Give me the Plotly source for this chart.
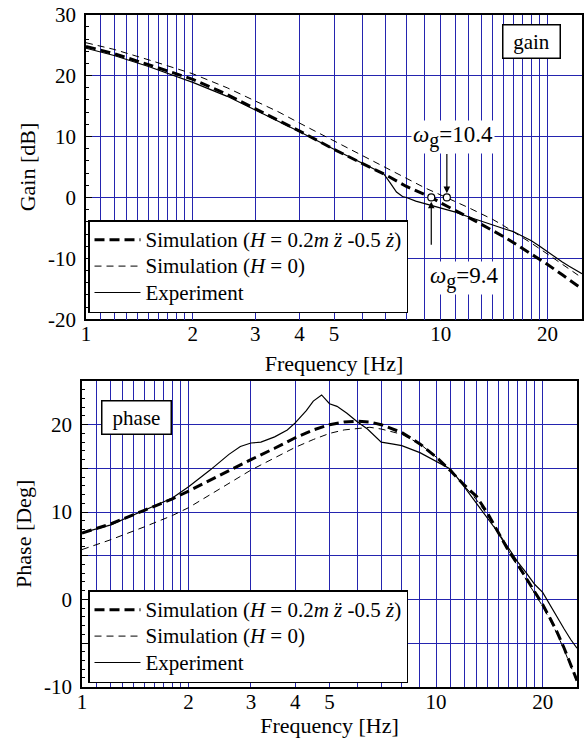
import math
import plotly.graph_objects as go

# ---------------- data ----------------
# Gain plot
f_sim1 = [1, 1.2, 1.5, 2, 2.5, 3, 3.5, 4, 5, 6, 7, 8, 9, 9.4, 10, 11, 12, 13, 14, 15, 16, 18, 20, 22, 25]
gain_sim1 = [24.8, 23.6, 21.8, 19.4, 16.9, 14.5, 12.6, 10.9, 7.9, 5.6, 3.7, 1.8, 0.4, 0.0, -0.9, -2.1,
             -3.3, -4.4, -5.4, -6.4, -7.4, -9.3, -11.0, -12.7, -15.0]

f_sim0 = [1, 1.2, 1.5, 2, 2.5, 3, 3.5, 4, 5, 6, 7, 8, 9, 10, 10.4, 11, 12, 13, 14, 15, 16, 18, 20, 22, 25]
gain_sim0 = [25.4, 24.3, 22.6, 20.3, 18.0, 15.9, 14.0, 12.2, 9.3, 7.0, 5.0, 3.2, 1.6, 0.4, 0.0, -0.7,
             -1.7, -2.7, -3.6, -4.6, -5.6, -7.5, -9.3, -11.0, -13.2]

f_exp_gain = [1, 1.2, 1.5, 2, 2.5, 3, 3.5, 4, 5, 6, 6.9, 7.2, 7.5, 7.8, 8.0, 8.5, 9.4, 10, 11, 12, 13,
              14, 15, 16, 17, 18, 19, 20, 21, 22, 23, 25]
gain_exp = [24.5, 23.3, 21.5, 18.9, 16.6, 14.4, 12.5, 10.8, 7.9, 5.6, 3.9, 2.4, 0.9, 0.15, 0.0, -0.6,
            -1.3, -1.7, -2.4, -3.2, -3.9, -4.6, -5.1, -5.6, -6.4, -7.1, -8.0, -8.9, -9.9, -10.6,
            -11.3, -12.5]

# Phase plot
f_phase_sim = [1, 1.2, 1.5, 1.8, 2, 2.5, 3, 3.5, 4, 4.5, 5, 5.5, 6, 6.5, 7, 8, 9, 10, 11, 12, 13, 14,
               15, 16, 17, 18, 19, 20, 21, 22, 23, 24, 25]
phase_sim1 = [7.6, 8.6, 10.2, 11.5, 12.4, 14.4, 16.0, 17.3, 18.5, 19.4, 20.0, 20.3, 20.4, 20.3, 20.0,
              19.1, 17.8, 16.3, 14.7, 13.1, 11.8, 9.8, 7.6, 5.6, 4.0, 2.4, 0.9, -0.6, -2.2, -3.8,
              -5.6, -7.5, -9.3]
phase_sim0 = [5.7, 6.8, 8.3, 9.6, 10.5, 12.9, 14.8, 16.2, 17.4, 18.3, 19.0, 19.4, 19.6, 19.7, 19.5,
              18.9, 17.8, 16.3, 14.8, 13.0, 11.4, 9.6, 7.5, 5.5, 3.8, 2.2, 0.7, -0.8, -2.4, -4.0,
              -5.8, -7.6, -9.4]

f_exp_phase = [1, 1.2, 1.5, 1.8, 2.0, 2.3, 2.6, 2.8, 3.0, 3.2, 3.5, 3.8, 4.0, 4.3, 4.5, 4.75, 5.0,
               5.25, 5.6, 6.0, 6.4, 7.0, 7.5, 8.0, 9.0, 10, 11, 12, 13, 14, 15, 16, 17, 18, 19, 20,
               21, 22, 23, 24, 25]
phase_exp = [7.6, 8.5, 10.2, 11.6, 12.9, 14.8, 16.6, 17.5, 17.9, 18.0, 18.6, 19.4, 20.2, 21.6, 22.7,
             23.4, 22.4, 22.1, 21.3, 20.3, 19.5, 18.0, 17.8, 17.6, 16.8, 15.8, 14.9, 12.9, 11.0, 9.3,
             7.6, 5.9, 4.3, 3.0, 1.7, 0.8, -0.7, -2.1, -3.4, -4.6, -5.6]

# crossover frequencies
wg_sim1 = 9.4
wg_sim0 = 10.4

# axis ticks / grid
x_grid = [1, 1.1, 1.2, 1.3, 1.4, 1.5, 1.6, 1.7, 1.8, 1.9, 2, 3, 4, 5, 6, 7, 8, 9, 10,
          11, 12, 13, 14, 15, 16, 17, 18, 19, 20]
x_labels = {1: "1", 2: "2", 3: "3", 4: "4", 5: "5", 10: "10", 20: "20"}
gain_ticks = [-20, -10, 0, 10, 20, 30]
phase_ticks = [-10, -5, 0, 5, 10, 15, 20]
phase_labels = {-10: "-10", 0: "0", 10: "10", 20: "20"}

names = ["Simulation (<i>H</i> = 0.2<i>m z\u0308</i> -0.5 <i>z\u0307</i>)",
         "Simulation (<i>H</i> = 0)",
         "Experiment"]

# ---------------- figure ----------------
FONT = "Liberation Serif"
GRID = "rgb(36,36,175)"
W, H = 586, 738
TICK_SIZE = 21
TITLE_SIZE = 22
LEG_TEXT = 21

fig = go.Figure()

styles = [dict(color="black", width=3, dash="10px,5px"),
          dict(color="black", width=1, dash="7px,5px"),
          dict(color="black", width=1.2)]


def leg_name(s):
    return f'<span style="font-size:{LEG_TEXT}px">{s}</span>'


for (fx, fy), st, nm in zip([(f_sim1, gain_sim1), (f_sim0, gain_sim0), (f_exp_gain, gain_exp)], styles, names):
    fig.add_trace(go.Scatter(x=fx, y=fy, mode="lines", line=st, name=leg_name(nm),
                             xaxis="x", yaxis="y", legend="legend"))

fig.add_trace(go.Scatter(x=[wg_sim1, wg_sim0], y=[0, 0], mode="markers",
                         marker=dict(symbol="circle", size=7, color="white",
                                     line=dict(color="black", width=1.2)),
                         showlegend=False, xaxis="x", yaxis="y"))

for (fx, fy), st, nm in zip([(f_phase_sim, phase_sim1), (f_phase_sim, phase_sim0), (f_exp_phase, phase_exp)], styles, names):
    fig.add_trace(go.Scatter(x=fx, y=fy, mode="lines", line=st, name=leg_name(nm),
                             xaxis="x2", yaxis="y2", legend="legend2"))


def xaxis(domain, anchor, standoff):
    return dict(type="log", range=[0, math.log10(25)], domain=domain, anchor=anchor,
                automargin=False,
                tickmode="array", tickvals=x_grid,
                ticktext=[x_labels.get(v, "") for v in x_grid],
                showgrid=True, gridcolor=GRID, gridwidth=1.4,
                ticks="inside", ticklen=5, tickcolor=GRID,
                ticklabelstandoff=-5,
                showline=True, mirror=True, linecolor="black", linewidth=1.5,
                zeroline=False, tickfont=dict(family=FONT, size=TICK_SIZE, color="black"),
                title=dict(text="Frequency [Hz]", font=dict(family=FONT, size=TITLE_SIZE, color="black"),
                           standoff=standoff))


def yaxis(domain, anchor, rng, tv, tt, minor_dt, title):
    return dict(range=rng, domain=domain, anchor=anchor,
                automargin=False,
                tickmode="array", tickvals=tv, ticktext=tt,
                showgrid=True, gridcolor=GRID, gridwidth=1.4,
                ticks="inside", ticklen=6, tickcolor="black",
                ticklabelstandoff=4,
                minor=dict(tickmode="linear", tick0=0, dtick=minor_dt, ticks="inside",
                           ticklen=3, tickcolor="black", showgrid=False),
                showline=True, mirror=True, linecolor="black", linewidth=1.5,
                zeroline=False, tickfont=dict(family=FONT, size=TICK_SIZE, color="black"),
                title=dict(text=title, font=dict(family=FONT, size=TITLE_SIZE, color="black"), standoff=6))


top_y = [1 - 319.3 / H, 1 - 14.7 / H]
bot_y = [1 - 686.7 / H, 1 - 381.0 / H]

legend_common = dict(font=dict(family=FONT, size=18, color="black"), bgcolor="white",
                     bordercolor="black", borderwidth=1.5, xanchor="left", yanchor="top",
                     itemwidth=46, tracegroupgap=0)

fig.update_layout(
    width=W, height=H, margin=dict(l=0, r=0, t=0, b=0, autoexpand=False),
    paper_bgcolor="white", plot_bgcolor="white",
    font=dict(family=FONT, size=20, color="black"),
    xaxis=xaxis([86 / W, 582 / W], "y", 10),
    yaxis=yaxis(top_y, "x", [-20, 30], gain_ticks, [str(v) for v in gain_ticks], 2, "Gain [dB]"),
    xaxis2=xaxis([82 / W, 577 / W], "y2", 5),
    yaxis2=yaxis(bot_y, "x2", [-10, 25], phase_ticks, [phase_labels.get(v, "") for v in phase_ticks], 1, "Phase [Deg]"),
    legend=dict(x=88 / W, y=1 - 220 / H, **legend_common),
    legend2=dict(x=88 / W, y=1 - 590 / H, **legend_common),
    showlegend=True,
)

ann_font = dict(family=FONT, size=23, color="black")
annotations = [
    dict(text="gain", xref="paper", yref="paper", x=531.5 / W, y=1 - 41.5 / H, showarrow=False,
         xanchor="center", yanchor="middle",
         font=dict(family=FONT, size=21, color="black"), bgcolor="white", bordercolor="black",
         borderwidth=1.5, borderpad=3, width=50, height=26),
    dict(text="phase", xref="paper", yref="paper", x=136.5 / W, y=1 - 417.5 / H, showarrow=False,
         xanchor="center", yanchor="middle",
         font=dict(family=FONT, size=21, color="black"), bgcolor="white", bordercolor="black",
         borderwidth=1.5, borderpad=3, width=62, height=26),
    # omega_g = 10.4
    dict(text=f'<i>ω</i><sub><span style="font-size:20px">g</span></sub>={wg_sim0}',
         xref="x", yref="y", x=math.log10(10.8), y=9.9,
         showarrow=False, font=ann_font, bgcolor="white", borderpad=1),
    dict(text="", xref="x", yref="y", axref="x", ayref="y", x=math.log10(wg_sim0), y=0.7,
         ax=math.log10(wg_sim0), ay=7.4, showarrow=True, arrowhead=2, arrowsize=1.1,
         arrowwidth=1.2, arrowcolor="black"),
    # omega_g = 9.4
    dict(text=f'<i>ω</i><sub><span style="font-size:20px">g</span></sub>={wg_sim1}',
         xref="x", yref="y", x=math.log10(11.6), y=-13.3,
         showarrow=False, font=ann_font, bgcolor="white", borderpad=1),
    dict(text="", xref="x", yref="y", axref="x", ayref="y", x=math.log10(wg_sim1), y=-0.7,
         ax=math.log10(wg_sim1), ay=-8.0, showarrow=True, arrowhead=2, arrowsize=1.1,
         arrowwidth=1.2, arrowcolor="black"),
]
fig.update_layout(annotations=annotations)

fig.write_html("out.html")
